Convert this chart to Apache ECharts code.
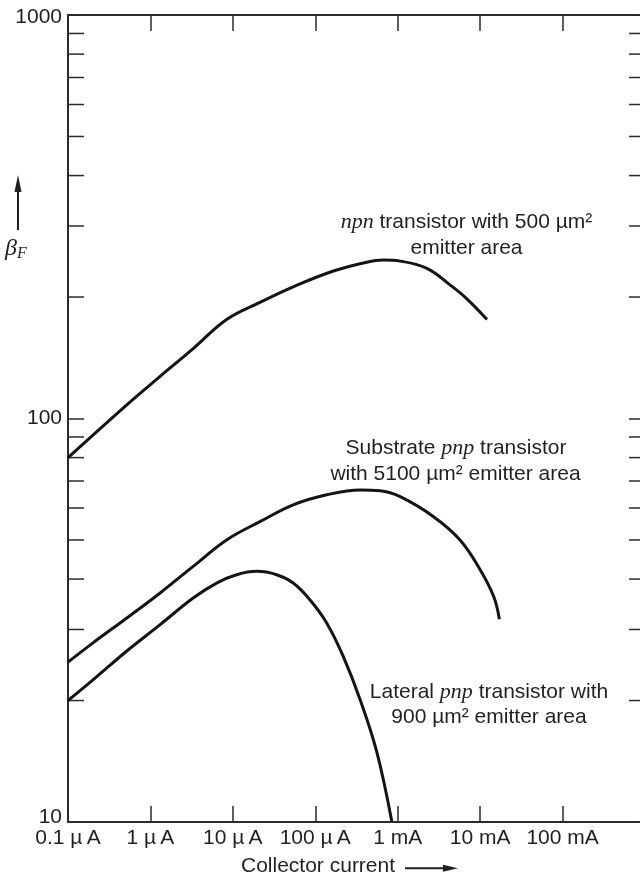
<!DOCTYPE html>
<html><head><meta charset="utf-8">
<script src="https://cdn.jsdelivr.net/npm/echarts@6/dist/echarts.min.js"></script>
<style>html,body{margin:0;padding:0;background:#fff}#c{width:640px;height:879px}</style>
</head><body><div id="c"></div>
<script>
// ---- data (collector current in A, beta_F) ----
const npnCurrent = [1e-7, 5.13e-7, 1.3e-6, 3.3e-6, 8.4e-6, 2.13e-5, 5.4e-5, 1.66e-4, 4.2e-4, 6.7e-4, 1.07e-3, 2.26e-3, 4.35e-3, 6.9e-3, 1.21e-2];
const npnBeta    = [80, 108, 127, 149, 176, 194, 212, 232, 244, 247, 245.5, 235.5, 214, 198, 176];

const subCurrent = [1e-7, 2.01e-7, 5.13e-7, 1.3e-6, 3.3e-6, 8.4e-6, 2.13e-5, 5.4e-5, 1.38e-4, 3.5e-4, 6.1e-4, 1.07e-3, 2.72e-3, 5.7e-3, 1.0e-2, 1.46e-2, 1.71e-2];
const subBeta    = [24.9, 27.8, 32.0, 36.9, 43.0, 50.0, 55.5, 61.1, 64.7, 66.5, 66.2, 64.0, 57.1, 50.0, 42.2, 36.2, 31.8];

const latCurrent = [1e-7, 2.01e-7, 5.13e-7, 1.3e-6, 3.3e-6, 6.35e-6, 1.11e-5, 1.95e-5, 3.4e-5, 5.4e-5, 8.65e-5, 1.38e-4, 2.19e-4, 3.5e-4, 5.58e-4, 8.5e-4];
const latBeta    = [20.0, 22.5, 26.5, 30.8, 35.9, 39.1, 41.0, 41.8, 41.0, 39.1, 35.5, 31.1, 25.7, 20.1, 14.9, 10.0];

// ---- axes ----
const xMin = 1e-7, xMax = 1;
const yMin = 10, yMax = 1000;
const xTickExponents = [-7, -6, -5, -4, -3, -2, -1];
const xTickLabels = ['0.1 \u00b5\u2009A', '1 \u00b5\u2009A', '10 \u00b5\u2009A', '100 \u00b5\u2009A', '1 mA', '10 mA', '100 mA'];
const yTickExponents = [1, 2, 3];
const yTickLabels = ['10', '100', '1000'];
const minorTickValues = [];
[10, 100].forEach(d => { for (let k = 2; k <= 9; k++) minorTickValues.push(k * d); });

const FONT = '"Liberation Sans", Arial, Helvetica, sans-serif';
const SERIF = '"Liberation Serif", "Times New Roman", serif';
const INK = '#231f20';
const AX = '#2b2b2b';
const CURVE = '#141414';
const FS = 21;

const chart = echarts.init(document.getElementById('c'), null, {renderer: 'canvas', width: 640, height: 879});

function xFmt(v) {
  const k = Math.round(Math.log10(v));
  const i = xTickExponents.indexOf(k);
  return i >= 0 ? xTickLabels[i] : '';
}
function yFmt(v) {
  const k = Math.round(Math.log10(v));
  const i = yTickExponents.indexOf(k);
  if (i < 0) return '';
  if (k === 1) return '{low|' + yTickLabels[i] + '}';
  if (k === 3) return '{top|' + yTickLabels[i] + '}';
  return yTickLabels[i];
}
const pairs = (xs, ys) => xs.map((x, i) => [x, ys[i]]);

const lineSeries = (name, xs, ys) => ({
  name, type: 'line', data: pairs(xs, ys), smooth: 0.4, showSymbol: false, symbol: 'none',
  lineStyle: {color: CURVE, width: 3}, itemStyle: {color: CURVE}, silent: true, z: 3
});

const annot = (text, cx, cy) => ({
  type: 'text', silent: true,
  style: {
    text, x: cx, y: cy, align: 'center', verticalAlign: 'middle', textAlign: 'center', textVerticalAlign: 'middle',
    fontSize: FS, fontFamily: FONT, fill: INK,
    rich: {i: {fontFamily: SERIF, fontStyle: 'italic', fontSize: FS + 1, fill: INK}}
  }
});

const option = {
  animation: false,
  backgroundColor: '#fff',
  grid: {left: 68, top: 15, width: 577, height: 807, containLabel: false, outerBoundsMode: 'none'},
  xAxis: [
    {type: 'log', logBase: 10, min: xMin, max: xMax, position: 'bottom',
     axisLine: {show: true, lineStyle: {color: AX, width: 2}},
     axisTick: {show: true, inside: true, length: 16, lineStyle: {color: AX, width: 1.5}},
     minorTick: {show: false}, splitLine: {show: false},
     axisLabel: {formatter: xFmt, fontSize: FS, fontFamily: FONT, color: INK, margin: 6, hideOverlap: false, showMinLabel: true, showMaxLabel: true}},
    {type: 'log', logBase: 10, min: xMin, max: xMax, position: 'top',
     axisLine: {show: true, lineStyle: {color: AX, width: 2}},
     axisTick: {show: true, inside: true, length: 16, lineStyle: {color: AX, width: 1.5}},
     minorTick: {show: false}, splitLine: {show: false}, axisLabel: {show: false}}
  ],
  yAxis: [
    {type: 'log', logBase: 10, min: yMin, max: yMax, position: 'left',
     axisLine: {show: true, lineStyle: {color: AX, width: 2}},
     axisTick: {show: true, inside: true, length: 16, lineStyle: {color: AX, width: 1.5}},
     minorTick: {show: false}, splitLine: {show: false},
     axisLabel: {formatter: yFmt, fontSize: FS, fontFamily: FONT, color: INK, margin: 6, showMinLabel: true, showMaxLabel: true,
       rich: {
         low: {fontSize: FS, fontFamily: FONT, color: INK, padding: [0, 0, 10, 0]},
         top: {fontSize: FS, fontFamily: FONT, color: INK, padding: [4, 0, 0, 0]}
       }}},
    {type: 'log', logBase: 10, min: yMin, max: yMax, position: 'right',
     axisLine: {show: true, lineStyle: {color: AX, width: 2}},
     axisTick: {show: true, inside: true, length: 16, lineStyle: {color: AX, width: 1.5}},
     minorTick: {show: false}, splitLine: {show: false}, axisLabel: {show: false}}
  ],
  series: [
    lineSeries('npn', npnCurrent, npnBeta),
    lineSeries('substrate pnp', subCurrent, subBeta),
    lineSeries('lateral pnp', latCurrent, latBeta),
    {
      type: 'custom', coordinateSystem: 'cartesian2d', silent: true, z: 2,
      data: minorTickValues.map(v => [xMin, v]),
      renderItem: (params, api) => {
        const v = api.value(1);
        const l = api.coord([xMin, v]);
        const r = api.coord([xMax, v]);
        return {type: 'group', children: [
          {type: 'line', shape: {x1: l[0], y1: l[1], x2: l[0] + 16, y2: l[1]}, style: {stroke: AX, lineWidth: 1.5}},
          {type: 'line', shape: {x1: r[0] - 16, y1: r[1], x2: r[0], y2: r[1]}, style: {stroke: AX, lineWidth: 1.5}}
        ]};
      }
    }
  ],
  graphic: [
    // y-axis name with arrow
    {type: 'line', silent: true, shape: {x1: 18, y1: 230, x2: 18, y2: 190}, style: {stroke: INK, lineWidth: 2}},
    {type: 'polygon', silent: true, shape: {points: [[18, 175], [14.5, 192], [21.5, 192]]}, style: {fill: INK}},
    {type: 'text', silent: true, style: {text: '\u03b2', x: 5, y: 249, verticalAlign: 'middle', textVerticalAlign: 'middle', fontSize: 24, fontFamily: SERIF, fontStyle: 'italic', fill: INK}},
    {type: 'text', silent: true, style: {text: 'F', x: 17, y: 254, verticalAlign: 'middle', textVerticalAlign: 'middle', fontSize: 16, fontFamily: SERIF, fontStyle: 'italic', fill: INK}},
    // x-axis name with arrow
    {type: 'text', silent: true, style: {text: 'Collector current', x: 241, y: 866, verticalAlign: 'middle', textVerticalAlign: 'middle', fontSize: FS, fontFamily: FONT, fill: INK}},
    {type: 'line', silent: true, shape: {x1: 405, y1: 868.3, x2: 446, y2: 868.3}, style: {stroke: INK, lineWidth: 2}},
    {type: 'polygon', silent: true, shape: {points: [[458, 868.3], [443, 864.8], [443, 871.8]]}, style: {fill: INK}},
    // curve annotations
    annot('{i|npn} transistor with 500 \u00b5m\u00b2', 466.5, 222),
    annot('emitter area', 466.5, 248),
    annot('Substrate {i|pnp} transistor', 456, 448),
    annot('with 5100 \u00b5m\u00b2 emitter area', 455.5, 474.5),
    annot('Lateral {i|pnp} transistor with', 489, 692),
    annot('900 \u00b5m\u00b2 emitter area', 489, 717)
  ]
};
chart.setOption(option);
</script>
</body></html>
